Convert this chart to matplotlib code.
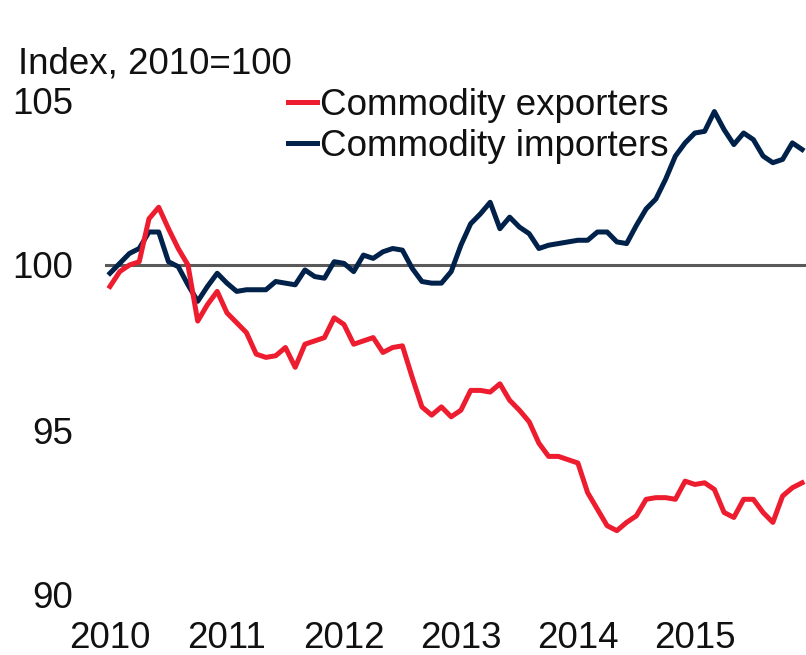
import numpy as np
import matplotlib.pyplot as plt

# Monthly index values, Jan 2010 - Dec 2015 (2010 = 100)
exporters = [99.35, 99.8, 100.0, 100.1, 101.4, 101.75, 101.1, 100.5, 100.0, 98.3,
             98.8, 99.2, 98.55, 98.25, 97.95, 97.3, 97.2, 97.25, 97.5, 96.9,
             97.6, 97.7, 97.8, 98.4, 98.2, 97.6, 97.7, 97.8, 97.35, 97.5,
             97.55, 96.6, 95.7, 95.45, 95.7, 95.4, 95.6, 96.2, 96.2, 96.15,
             96.4, 95.9, 95.6, 95.25, 94.6, 94.2, 94.2, 94.1, 94.0, 93.1,
             92.6, 92.1, 91.95, 92.2, 92.4, 92.9, 92.95, 92.95, 92.9, 93.45,
             93.35, 93.4, 93.2, 92.5, 92.35, 92.9, 92.9, 92.5, 92.2, 93.0,
             93.25, 93.4]
importers = [99.75, 100.05, 100.35, 100.5, 101.0, 101.0, 100.1, 99.95, 99.4, 98.9,
             99.35, 99.75, 99.45, 99.2, 99.25, 99.25, 99.25, 99.5, 99.45, 99.4,
             99.85, 99.65, 99.6, 100.1, 100.05, 99.8, 100.3, 100.2, 100.4, 100.5,
             100.45, 99.9, 99.5, 99.45, 99.45, 99.8, 100.6, 101.25, 101.55, 101.9,
             101.1, 101.45, 101.15, 100.95, 100.5, 100.6, 100.65, 100.7, 100.75, 100.75,
             101.0, 101.0, 100.7, 100.65, 101.2, 101.7, 102.0, 102.6, 103.3, 103.7,
             104.0, 104.05, 104.65, 104.1, 103.65, 104.0, 103.8, 103.3, 103.1, 103.2,
             103.7, 103.5]
years = [2010, 2011, 2012, 2013, 2014, 2015]
y_ticks = [90, 95, 100, 105]

x = 2010 + np.arange(len(exporters)) / 12.0

W, H = 806, 655
fig = plt.figure(figsize=(W / 100, H / 100), dpi=100)
plt.rcParams['font.family'] = ['Liberation Sans', 'DejaVu Sans']
FS = 26.5

# axes box in pixels: left 105, right 806, top 100 (y=105), bottom 595 (y=90)
ax = fig.add_axes([105 / W, 1 - 595 / H, (806 - 105) / W, (595 - 100) / H])

ax.axhline(100, color='#595959', lw=2.2, zorder=1)
ax.plot(x, exporters, color='#ED1C2E', lw=3.6, label='Commodity exporters', zorder=3)
ax.plot(x, importers, color='#00214A', lw=3.6, label='Commodity importers', zorder=2)

ax.set_xticks(years)
ax.set_xticklabels([str(y) for y in years])
ax.set_yticks(y_ticks)
ax.set_xlim(2010 - 0.51 / 12, 2010 + 71.4 / 12)
ax.set_ylim(90, 105)
ax.tick_params(axis='both', length=0, labelsize=FS, colors='#111111')
ax.tick_params(axis='y', pad=23)
ax.tick_params(axis='x', pad=19)
for s in ax.spines.values():
    s.set_visible(False)

fig.text(18 / W, 1 - 73 / H, 'Index, 2010=100', fontsize=FS, va='baseline',
         color='#111111')

leg = ax.legend(loc='upper left', bbox_to_anchor=(288 / W, 1 - 88 / H),
                bbox_transform=fig.transFigure, frameon=False, fontsize=FS,
                handlelength=0.8, handletextpad=0.08, labelspacing=0.15,
                borderpad=0, borderaxespad=0)
for t in leg.get_texts():
    t.set_color('#111111')

fig.savefig('out.png', dpi=100)
